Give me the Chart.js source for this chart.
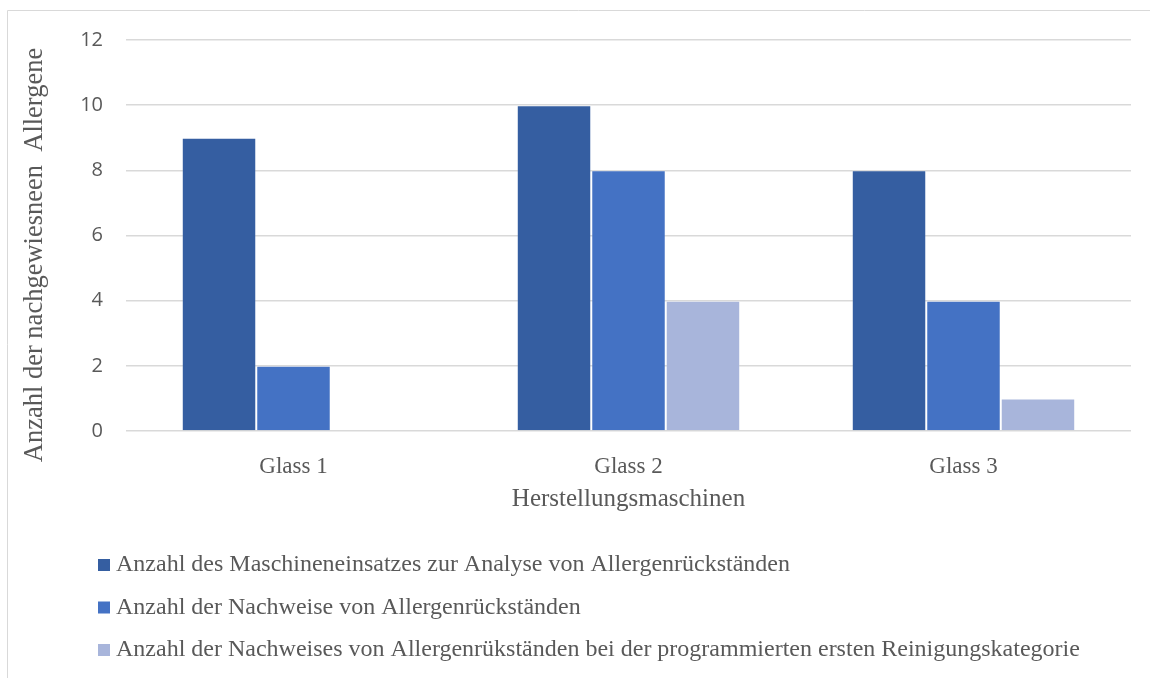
<!DOCTYPE html>
<html>
<head>
<meta charset="utf-8">
<script src="https://cdn.jsdelivr.net/npm/chart.js@4.4.1/dist/chart.umd.min.js"></script>
<style>
  html, body { margin: 0; padding: 0; background: #ffffff; }
  #wrap { width: 1150px; height: 678px; position: relative; }
</style>
</head>
<body>
<div id="wrap"><canvas id="chart" width="1150" height="678"></canvas></div>
<script>
// Machines on the x axis
const categories = ['Glass 1', 'Glass 2', 'Glass 3'];

// Series labels
const seriesNames = [
  'Anzahl des Maschineneinsatzes zur Analyse von Allergenrückständen',
  'Anzahl der Nachweise von Allergenrückständen',
  'Anzahl der Nachweises von Allergenrükständen bei der programmierten ersten Reinigungskategorie'
];

// Series values, one entry per machine
const einsaetze = [9, 10, 8];
const nachweise = [2, 8, 4];
const nachweiseReinigung = [0, 4, 1];

// Y axis ticks
const yTicks = [0, 2, 4, 6, 8, 10, 12];

const xTitle = 'Herstellungsmaschinen';
const yTitle = 'Anzahl der nachgewiesneen  Allergene';

const colors = ['#355EA1', '#4472C4', '#A8B5DB'];
const textColor = '#595959';
const serif = '"Liberation Serif", "Times New Roman", serif';

// Frame around the chart, y axis title and the stacked legend list
const decorations = {
  id: 'decorations',
  beforeDraw(chart) {
    const ctx = chart.ctx;
    ctx.save();
    ctx.strokeStyle = '#d9d9d9';
    ctx.lineWidth = 1;
    ctx.beginPath();
    ctx.moveTo(7.5, chart.height);
    ctx.lineTo(7.5, 10.5);
    ctx.lineTo(chart.width, 10.5);
    ctx.stroke();
    ctx.restore();
  },
  afterDraw(chart) {
    const ctx = chart.ctx;
    const area = chart.chartArea;
    ctx.save();
    // y axis title
    ctx.font = '26.5px ' + serif;
    ctx.fillStyle = textColor;
    ctx.textAlign = 'center';
    ctx.textBaseline = 'middle';
    ctx.translate(35, area.top + 215);
    ctx.rotate(-Math.PI / 2);
    ctx.fillText(yTitle, 0, 0);
    ctx.restore();

    // legend, one row per dataset
    ctx.save();
    ctx.font = '24px ' + serif;
    ctx.textAlign = 'left';
    ctx.textBaseline = 'middle';
    const rowStart = area.bottom + 134;
    const rowGap = 42.5;
    chart.data.datasets.forEach((ds, i) => {
      const cy = rowStart + i * rowGap;
      ctx.fillStyle = ds.backgroundColor;
      ctx.fillRect(98, cy - 6, 12, 12);
      ctx.fillStyle = textColor;
      ctx.fillText(ds.label, 116, cy);
    });
    ctx.restore();
  }
};

const datasets = [einsaetze, nachweise, nachweiseReinigung].map((values, i) => ({
  label: seriesNames[i],
  data: values,
  backgroundColor: colors[i],
  borderColor: 'rgba(255,255,255,0.14)',
  borderWidth: 1,
  categoryPercentage: 0.667,
  barPercentage: 1.0
}));

new Chart(document.getElementById('chart'), {
  type: 'bar',
  data: { labels: categories, datasets },
  plugins: [decorations],
  options: {
    responsive: false,
    animation: false,
    layout: { padding: { left: 0, top: 40, right: 19, bottom: 157 } },
    plugins: {
      legend: { display: false },
      tooltip: { enabled: false }
    },
    scales: {
      x: {
        grid: { display: false },
        border: { display: false },
        ticks: {
          color: textColor,
          font: { family: serif, size: 23 },
          padding: 14
        },
        title: {
          display: true,
          text: xTitle,
          color: textColor,
          font: { family: serif, size: 25 },
          padding: { top: 0, bottom: 7 }
        },
        afterFit(scale) { scale.height = 90; }
      },
      y: {
        min: 0,
        max: 12,
        afterBuildTicks(scale) { scale.ticks = yTicks.map(v => ({ value: v })); },
        grid: { color: '#d9d9d9', lineWidth: 1.5, drawTicks: false },
        border: { display: false },
        ticks: {
          color: textColor,
          font: { family: '"Open Sans", sans-serif', size: 20 },
          padding: 23
        },
        afterFit(scale) { scale.width = 126; }
      }
    }
  }
});
</script>
</body>
</html>
